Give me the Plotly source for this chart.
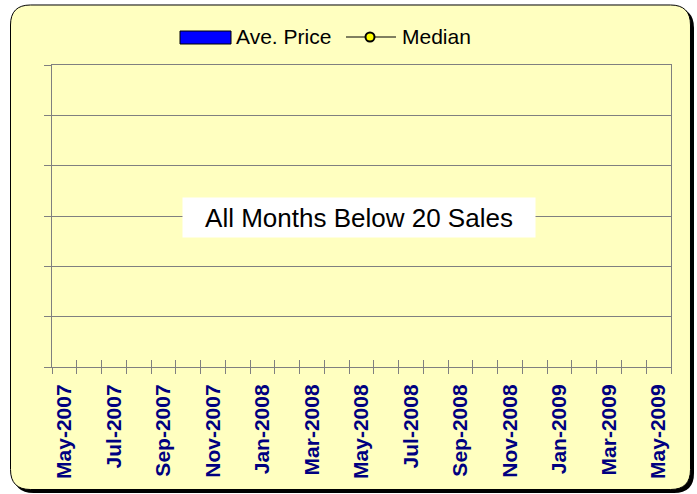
import plotly.graph_objects as go

# ---- data ----
months = ["May-2007", "Jun-2007", "Jul-2007", "Aug-2007", "Sep-2007", "Oct-2007",
          "Nov-2007", "Dec-2007", "Jan-2008", "Feb-2008", "Mar-2008", "Apr-2008",
          "May-2008", "Jun-2008", "Jul-2008", "Aug-2008", "Sep-2008", "Oct-2008",
          "Nov-2008", "Dec-2008", "Jan-2009", "Feb-2009", "Mar-2009", "Apr-2009",
          "May-2009"]
ave_price = [None, None, None, None, None, None, None, None, None, None, None, None,
             None, None, None, None, None, None, None, None, None, None, None, None, None]
median = [None, None, None, None, None, None, None, None, None, None, None, None,
          None, None, None, None, None, None, None, None, None, None, None, None, None]
tick_text = [m if i % 2 == 0 else "" for i, m in enumerate(months)]
y_ticks = [0, 1, 2, 3, 4, 5, 6]
series_names = ["Ave. Price", "Median"]
message = "All Months Below 20 Sales"

W, H = 697, 494
L, R, T, B = 52, 671, 65, 367
FONT = "Arial, 'Liberation Sans', sans-serif"
BG = "#FFFFC0"


def px(x, y):
    return (x - L) / (R - L), (B - y) / (B - T)


def rounded(x0, y0, x1, y1, r):
    def p(x, y):
        a, b = px(x, y)
        return f"{a:.5f},{b:.5f}"
    s = f"M {p(x0 + r, y0)} L {p(x1 - r, y0)} Q {p(x1, y0)} {p(x1, y0 + r)} "
    s += f"L {p(x1, y1 - r)} Q {p(x1, y1)} {p(x1 - r, y1)} "
    s += f"L {p(x0 + r, y1)} Q {p(x0, y1)} {p(x0, y1 - r)} "
    s += f"L {p(x0, y0 + r)} Q {p(x0, y0)} {p(x0 + r, y0)} Z"
    return s


fig = go.Figure()
fig.add_trace(go.Bar(x=months, y=ave_price, name=series_names[0],
                     marker=dict(color="#0000FF", line=dict(color="#000000", width=1)),
                     showlegend=False))
fig.add_trace(go.Scatter(x=months, y=median, name=series_names[1], mode="lines+markers",
                         line=dict(color="#000000", width=1),
                         marker=dict(color="#FFFF00", size=9, line=dict(color="#000000", width=2)),
                         xaxis="x2", showlegend=False))

shapes = [
    dict(type="path", xref="paper", yref="paper", path=rounded(13.5, 8, 694, 493, 20),
         fillcolor="#000000", line=dict(width=0), layer="below"),
    dict(type="path", xref="paper", yref="paper", path=rounded(10.5, 5, 690.5, 489.5, 20),
         fillcolor=BG, line=dict(color="#000000", width=1), layer="below"),
]

# custom legend
bx0, by0 = px(180, 31)
bx1, by1 = px(231, 44)
shapes.append(dict(type="rect", xref="paper", yref="paper", x0=bx0, y0=by0, x1=bx1, y1=by1,
                   fillcolor="#0000FF", line=dict(color="#000000", width=1)))
lx0, ly = px(346, 37)
lx1, _ = px(396, 37)
shapes.append(dict(type="line", xref="paper", yref="paper", x0=lx0, y0=ly, x1=lx1, y1=ly,
                   line=dict(color="#000000", width=1)))
cx0, cy0 = px(365.5, 32.5)
cx1, cy1 = px(374.5, 41.5)
shapes.append(dict(type="circle", xref="paper", yref="paper", x0=cx0, y0=cy0, x1=cx1, y1=cy1,
                   fillcolor="#FFFF00", line=dict(color="#000000", width=2)))

annotations = []
ax, ay = px(234, 37)
annotations.append(dict(x=ax, y=ay, xref="paper", yref="paper", text=series_names[0],
                        showarrow=False, xanchor="left", yanchor="middle",
                        font=dict(family=FONT, size=21, color="#000000")))
ax, ay = px(400, 37)
annotations.append(dict(x=ax, y=ay, xref="paper", yref="paper", text=series_names[1],
                        showarrow=False, xanchor="left", yanchor="middle",
                        font=dict(family=FONT, size=21, color="#000000")))
mx, my = px(359, 217.5)
annotations.append(dict(x=mx, y=my, xref="paper", yref="paper", text=message,
                        showarrow=False, xanchor="center", yanchor="middle",
                        bgcolor="#FFFFFF", borderpad=4, width=344, height=31,
                        font=dict(family=FONT, size=26, color="#000000")))

fig.update_layout(
    width=W, height=H,
    margin=dict(l=L, r=W - R, t=T, b=H - B, pad=0),
    paper_bgcolor="#FFFFFF", plot_bgcolor=BG,
    font=dict(family=FONT),
    showlegend=False,
    shapes=shapes, annotations=annotations,
    xaxis=dict(type="category", categoryorder="array", categoryarray=months,
               range=[-0.5, len(months) - 0.5],
               tickmode="array", tickvals=months, ticktext=tick_text,
               tickson="boundaries", ticks="outside", ticklen=6, tickwidth=1,
               tickcolor="#808080", tickangle=-90, ticklabelstandoff=8,
               tickfont=dict(family=FONT, size=21, color="#000080", weight="bold"),
               showline=True, linecolor="#808080", linewidth=1, mirror=True,
               showgrid=False, zeroline=False, fixedrange=True),
    xaxis2=dict(type="category", categoryorder="array", categoryarray=months,
                range=[-0.5, len(months) - 0.5], overlaying="x", anchor="y", side="bottom",
                tickmode="array", tickvals=months, ticktext=["" for _ in months],
                tickson="boundaries", ticks="inside", ticklen=7, tickwidth=1,
                tickcolor="#808080", showticklabels=False, showline=False,
                showgrid=False, zeroline=False, fixedrange=True),
    yaxis=dict(range=[0, 6], tickmode="array", tickvals=y_ticks, showticklabels=False,
               ticks="outside", ticklen=7, tickwidth=1, tickcolor="#808080",
               showgrid=True, gridcolor="#808080", gridwidth=1,
               showline=True, linecolor="#808080", linewidth=1, mirror=True,
               zeroline=False, fixedrange=True),
)

fig.write_html("out.html", config={"displayModeBar": False},
               post_script="document.body.style.margin='0';")
